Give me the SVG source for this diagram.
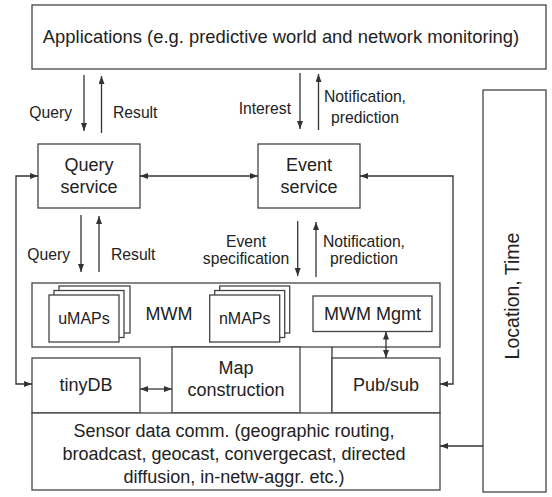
<svg xmlns="http://www.w3.org/2000/svg" width="552" height="497" viewBox="0 0 552 497">
<defs>
<marker id="ah" markerUnits="userSpaceOnUse" markerWidth="9" markerHeight="7" refX="8" refY="3" orient="auto-start-reverse"><path d="M0,0 L8,3 L0,6 z" fill="#333"/></marker>
<style>
.b{fill:#fff;stroke:#444;stroke-width:1.3}
.c{fill:none;stroke:#333;stroke-width:1.3}
text{font-family:"Liberation Sans",Arial,sans-serif;fill:#222}
.t18{font-size:18px;text-anchor:middle}
.t16{font-size:16px;text-anchor:middle}
.l{font-size:15.7px}
</style>
</defs>
<rect width="552" height="497" fill="#fff"/>
<g id="applications"><rect class="b" x="32" y="5" width="514" height="64"/><text class="t18" x="281" y="43" style="font-size:18.4px">Applications (e.g. predictive world and network monitoring)</text></g>
<g id="location-time"><rect class="b" x="483" y="90" width="63" height="402"/><text class="t18" transform="translate(519,296) rotate(-90)" style="font-size:19.5px">Location, Time</text></g>
<g id="query-service"><rect class="b" x="38" y="144" width="102" height="64"/><text class="t18" x="89" y="171">Query</text><text class="t18" x="89" y="193">service</text></g>
<g id="event-service"><rect class="b" x="258" y="144" width="102" height="64"/><text class="t18" x="309" y="171">Event</text><text class="t18" x="309" y="193">service</text></g>
<g id="mwm"><rect class="b" x="32" y="283" width="408" height="64"/><text class="t18" x="169" y="320">MWM</text></g>
<g id="umaps"><rect class="b" x="59" y="286" width="71" height="47"/><rect class="b" x="54" y="290.5" width="70" height="47"/><rect class="b" x="49" y="295" width="70" height="47"/><text class="t16" x="84" y="324">uMAPs</text></g>
<g id="nmaps"><rect class="b" x="219.7" y="286" width="70" height="47"/><rect class="b" x="214.7" y="290.5" width="70" height="47"/><rect class="b" x="209.7" y="295" width="70" height="47"/><text class="t16" x="244.7" y="324">nMAPs</text></g>
<g id="mwm-mgmt"><rect class="b" x="313" y="296" width="119" height="35.5"/><text class="t18" x="372.5" y="320">MWM Mgmt</text></g>
<g id="tinydb"><rect class="b" x="32" y="358" width="108" height="55"/><text class="t18" x="86" y="391">tinyDB</text></g>
<g id="map-construction"><rect class="b" x="172" y="347" width="128" height="66"/><text class="t18" x="236" y="374">Map</text><text class="t18" x="236" y="396">construction</text></g>
<g id="gap-cell"><line class="c" x1="332" y1="347" x2="332" y2="413"/></g>
<g id="pubsub"><rect class="b" x="332" y="358" width="108" height="55"/><text class="t18" x="386" y="391">Pub/sub</text></g>
<g id="sensor-comm"><rect class="b" x="32" y="413" width="408" height="77"/><text class="t18" x="234" y="437">Sensor data comm. (geographic routing,</text><text class="t18" x="234" y="460">broadcast, geocast, convergecast, directed</text><text class="t18" x="234" y="483">diffusion, in-netw-aggr. etc.)</text></g>
<g id="connectors">
<line class="c" x1="84" y1="75" x2="84" y2="131" marker-end="url(#ah)"/>
<line class="c" x1="101.5" y1="133" x2="101.5" y2="76" marker-end="url(#ah)"/>
<line class="c" x1="300" y1="73" x2="300" y2="129" marker-end="url(#ah)"/>
<line class="c" x1="318.5" y1="130" x2="318.5" y2="74" marker-end="url(#ah)"/>
<line class="c" x1="140" y1="176" x2="258" y2="176" marker-start="url(#ah)" marker-end="url(#ah)"/>
<path class="c" d="M38,176 H16 V384 H32" marker-start="url(#ah)" marker-end="url(#ah)"/>
<path class="c" d="M360,176 H453 V384 H440" marker-start="url(#ah)" marker-end="url(#ah)"/>
<line class="c" x1="81" y1="215" x2="81" y2="272" marker-end="url(#ah)"/>
<line class="c" x1="99" y1="272" x2="99" y2="216" marker-end="url(#ah)"/>
<line class="c" x1="297.7" y1="221" x2="297.7" y2="276" marker-end="url(#ah)"/>
<line class="c" x1="316" y1="277" x2="316" y2="222" marker-end="url(#ah)"/>
<line class="c" x1="140" y1="389" x2="172" y2="389" marker-start="url(#ah)" marker-end="url(#ah)"/>
<line class="c" x1="386" y1="331.5" x2="386" y2="358" marker-start="url(#ah)" marker-end="url(#ah)"/>
<line class="c" x1="483" y1="446" x2="440" y2="446" marker-end="url(#ah)"/>
</g>
<g id="labels">
<text class="l" x="72" y="118" text-anchor="end">Query</text>
<text class="l" x="113" y="118">Result</text>
<text class="l" x="291" y="114" text-anchor="end">Interest</text>
<text class="l" x="365" y="102" text-anchor="middle">Notification,</text>
<text class="l" x="365" y="123" text-anchor="middle">prediction</text>
<text class="l" x="70" y="260" text-anchor="end">Query</text>
<text class="l" x="111" y="260">Result</text>
<text class="l" x="246" y="247" text-anchor="middle">Event</text>
<text class="l" x="246" y="264" text-anchor="middle">specification</text>
<text class="l" x="364" y="247" text-anchor="middle">Notification,</text>
<text class="l" x="364" y="264" text-anchor="middle">prediction</text>
</g>
</svg>
